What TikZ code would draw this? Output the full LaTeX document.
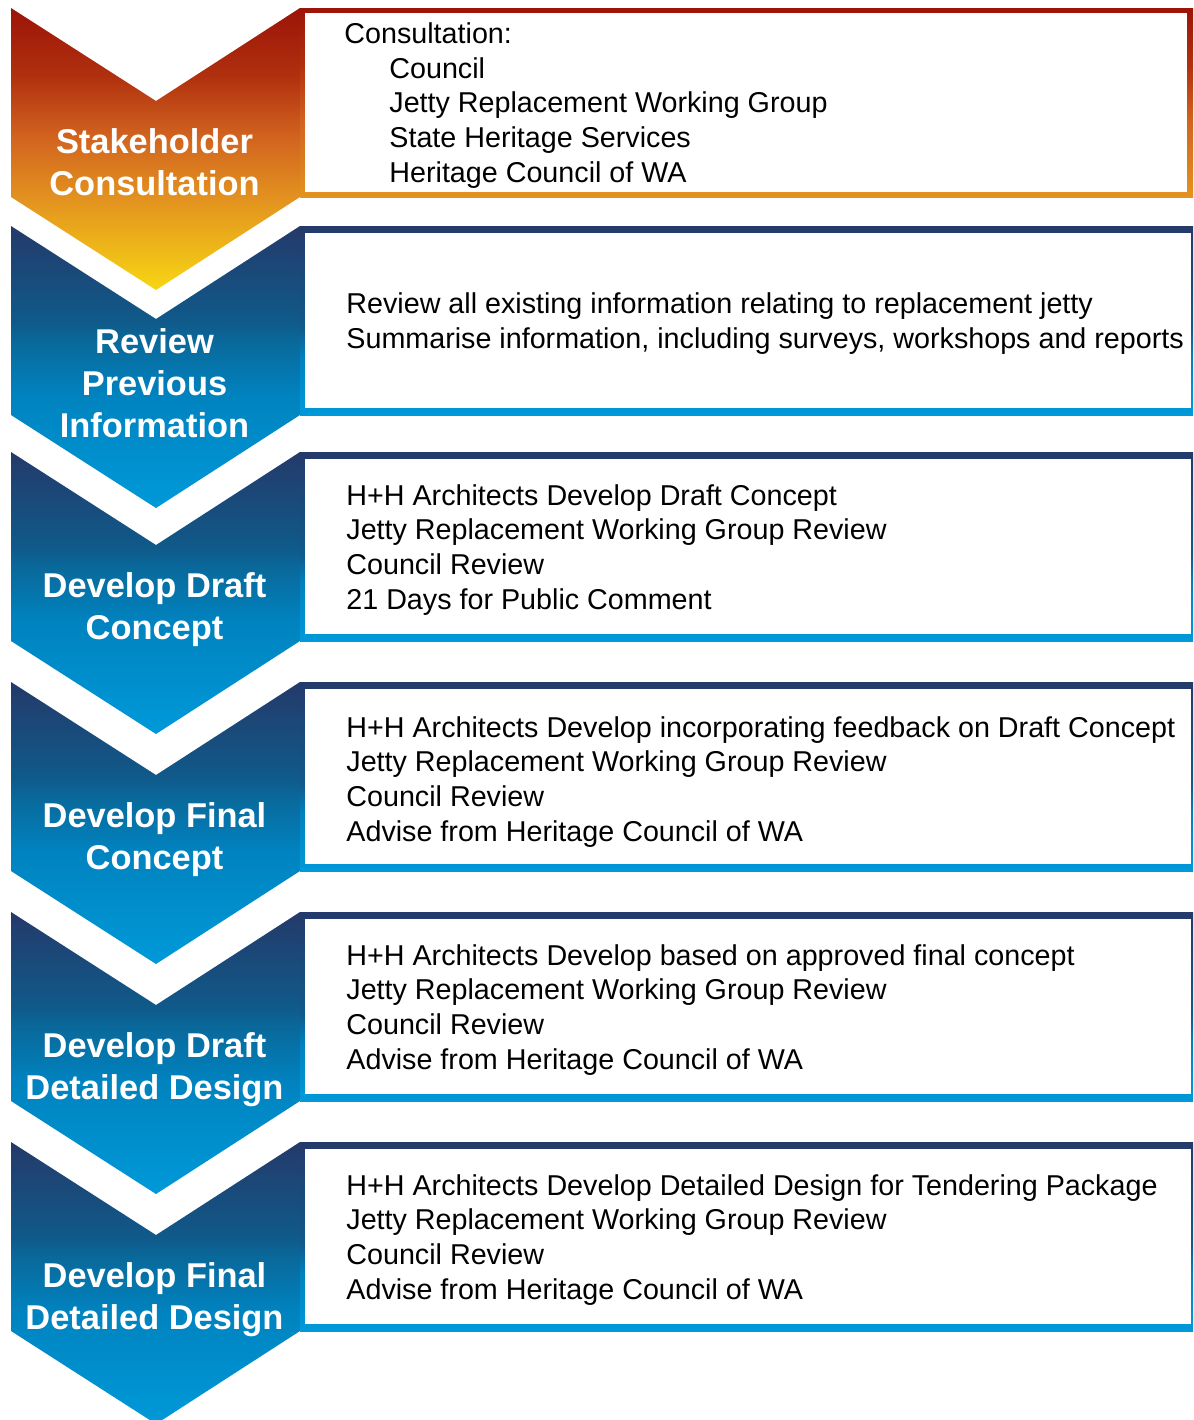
\documentclass[tikz,border=0pt]{standalone}
\usepackage{fontspec}
\setmainfont{Liberation Sans}
\usetikzlibrary{positioning}

\definecolor{navy}{HTML}{243A6A}
\definecolor{bandblue}{HTML}{0F5A8A}
\definecolor{midblue}{HTML}{0A6799}
\definecolor{brightblue}{HTML}{0083BF}
\definecolor{skyblue}{HTML}{0099D9}
\definecolor{darkred}{HTML}{9C1408}
\definecolor{rust}{HTML}{B0300E}
\definecolor{burnt}{HTML}{D2641F}
\definecolor{amber}{HTML}{E3931F}
\definecolor{sun}{HTML}{F7D614}

\pgfdeclareverticalshading{bluechev}{100bp}{color(0bp)=(skyblue); color(25bp)=(skyblue); color(45bp)=(brightblue); color(55bp)=(midblue); color(58bp)=(bandblue); color(75bp)=(navy); color(100bp)=(navy)}
\pgfdeclareverticalshading{bluebox}{100bp}{color(0bp)=(skyblue); color(25bp)=(skyblue); color(40bp)=(brightblue); color(48bp)=(bandblue); color(75bp)=(navy); color(100bp)=(navy)}
\pgfdeclareverticalshading{orangechev}{100bp}{color(0bp)=(sun); color(25bp)=(sun); color(41bp)=(amber); color(52bp)=(burnt); color(63bp)=(rust); color(75bp)=(darkred); color(100bp)=(darkred)}
\pgfdeclareverticalshading{orangebox}{100bp}{color(0bp)=(amber); color(25bp)=(amber); color(45bp)=(burnt); color(60bp)=(rust); color(75bp)=(darkred); color(100bp)=(darkred)}

\begin{document}
\begin{tikzpicture}[x=0.5pt,y=-0.5pt,
  stagelbl/.style={text=white,font=\fontsize{17.2}{21}\selectfont\bfseries,align=center,anchor=base,inner sep=0pt},
  steptxt/.style={font=\fontsize{14.35}{17.3}\selectfont,align=left,anchor=base west,inner sep=0pt}]
  \clip (0,0) rectangle (1194,1420);

  % chevrons with their boxes
  \foreach \t/\shd/\bshd/\bt/\rx in {8/orangechev/orangebox/5/1187, 226/bluechev/bluebox/7/1191,
      452/bluechev/bluebox/7/1191, 682/bluechev/bluebox/7/1191,
      912/bluechev/bluebox/7/1191, 1142/bluechev/bluebox/7/1191}{
    \shade[shading=\shd] (11,\t) -- (156,\t+93) -- (300,\t) -- (300,\t+189)
      -- (156,\t+282) -- (11,\t+189) -- cycle;
    \shade[shading=\bshd] (300,\t) rectangle (1193,\t+189);
    \fill[white] (305,\t+\bt) rectangle (\rx,\t+189-\bt);
  }

  % labels sit on the baseline of their last line
  \node[stagelbl] (stake) at (154.5,195) {Stakeholder\\Consultation};
  \node[stagelbl] (review) at (154.5,437) {Review\\Previous\\Information};
  \node[stagelbl] (draftc) at (154.5,639) {Develop Draft\\Concept};
  \node[stagelbl] (finalc) at (154.5,869) {Develop Final\\Concept};
  \node[stagelbl] (draftd) at (154.5,1099) {Develop Draft\\Detailed Design};
  \node[stagelbl] (finald) at (154.5,1329) {Develop Final\\Detailed Design};

  \node[steptxt] (staketxt) at (344,182) {Consultation:\\
    \hspace*{22.5pt}Council\\
    \hspace*{22.5pt}Jetty Replacement Working Group\\
    \hspace*{22.5pt}State Heritage Services\\
    \hspace*{22.5pt}Heritage Council of WA};
  \node[steptxt] (reviewtxt) at (346,348) {Review all existing information relating to replacement jetty\\
    Summarise information, including surveys, workshops and reports};
  \node[steptxt] (draftctxt) at (346,609) {H+H Architects Develop Draft Concept\\
    Jetty Replacement Working Group Review\\
    Council Review\\
    21 Days for Public Comment};
  \node[steptxt] (finalctxt) at (346,841) {H+H Architects Develop incorporating feedback on Draft Concept\\
    Jetty Replacement Working Group Review\\
    Council Review\\
    Advise from Heritage Council of WA};
  \node[steptxt] (draftdtxt) at (346,1069) {H+H Architects Develop based on approved final concept\\
    Jetty Replacement Working Group Review\\
    Council Review\\
    Advise from Heritage Council of WA};
  \node[steptxt] (finaldtxt) at (346,1299) {H+H Architects Develop Detailed Design for Tendering Package\\
    Jetty Replacement Working Group Review\\
    Council Review\\
    Advise from Heritage Council of WA};
\end{tikzpicture}
\end{document}
